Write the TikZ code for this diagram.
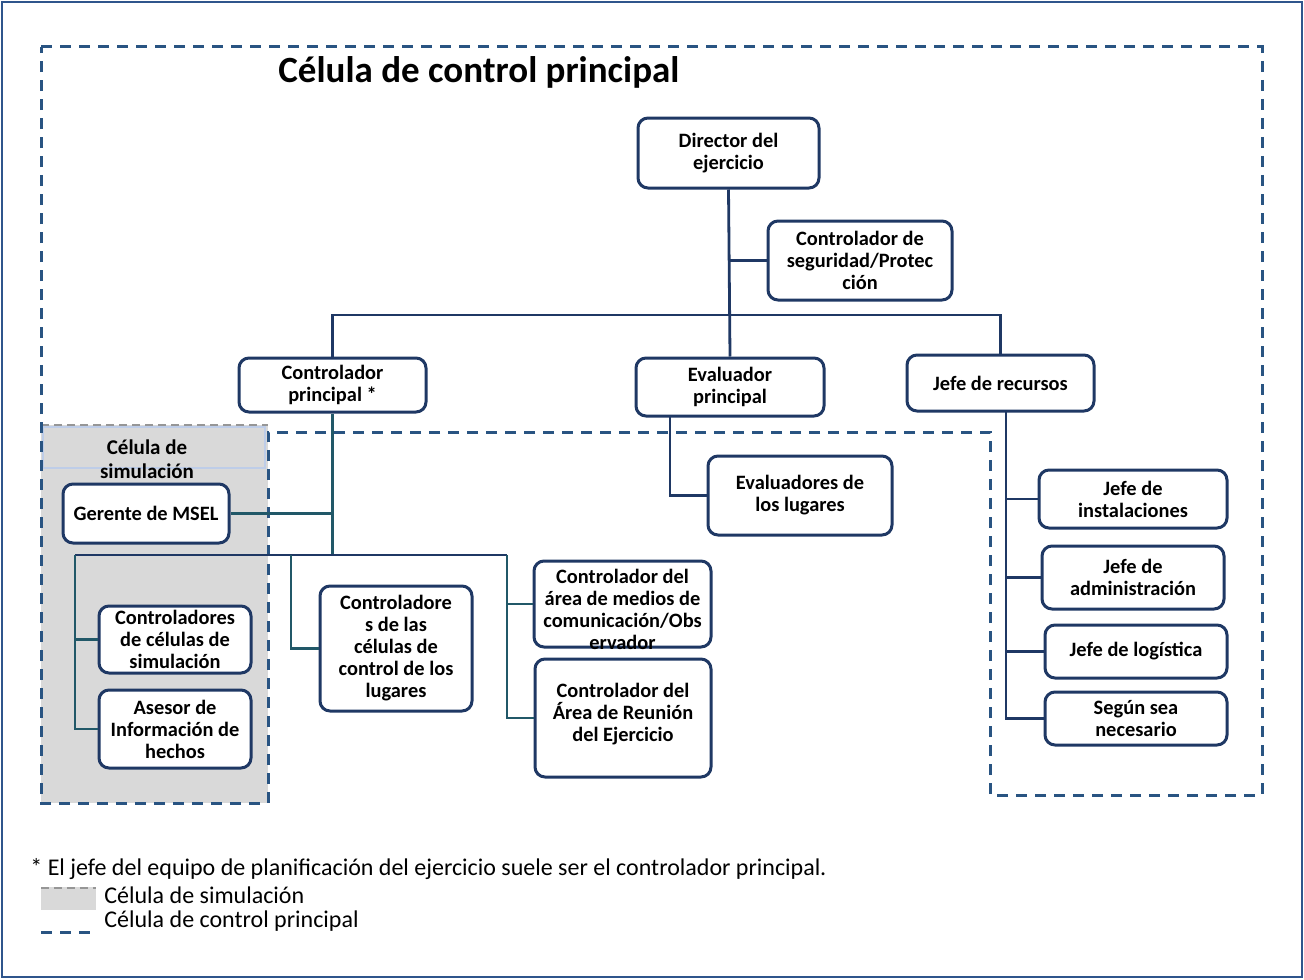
\documentclass[tikz,border=0pt]{standalone}
\usepackage{fontspec}
\setmainfont{Carlito}
\definecolor{boxline}{RGB}{31,56,100}
\definecolor{tealline}{RGB}{33,88,104}
\definecolor{ctrlblue}{RGB}{41,84,130}
\definecolor{framecol}{RGB}{47,85,140}
\definecolor{simgray}{RGB}{217,217,217}
\definecolor{simdash}{RGB}{150,150,150}
\definecolor{faintblue}{RGB}{190,205,232}
\begin{document}
\begin{tikzpicture}[x=0.5pt,y=-0.5pt,
  box/.style={draw=boxline,line width=1.5pt,rounded corners=5pt,fill=white,align=center,inner sep=0pt,font=\bfseries\fontsize{10.2}{11}\selectfont},
  boxtext/.style={align=center,inner sep=0pt,font=\bfseries\fontsize{10.2}{11}\selectfont},
  sz/.style 2 args={minimum width=#1*0.5pt,minimum height=#2*0.5pt},
  link/.style={draw=boxline,line width=1.4pt},
  tlink/.style={draw=tealline,line width=1.4pt},
  ctrlcell/.style={draw=ctrlblue,line width=1.5pt,dash pattern=on 5.5pt off 4pt},
  simtop/.style={draw=simdash,line width=1.2pt,dash pattern=on 4pt off 2.5pt},
  legendtxt/.style={anchor=west,inner sep=0pt,font=\fontsize{12}{14}\selectfont}]
\useasboundingbox (0,0) rectangle (1304,979);
\draw[draw=framecol,line width=1.2pt] (2,2) rectangle (1302,977);
% simulation cell and main control cell
\fill[simgray] (41,425) rectangle (268,803);
\draw[simtop] (41,425) -- (268,425);
\draw[faintblue,line width=0.6pt] (43,427) rectangle (265,468);
\draw[ctrlcell] (41,47) -- (1262,47) -- (1262,795) -- (990,795) -- (990,432) -- (268,432) -- (268,803) -- (41,803) -- cycle;
\node[anchor=west,inner sep=0pt,font=\bfseries\fontsize{18.5}{21}\selectfont] (title) at (278,72) {Célula de control principal};
\node[boxtext,font=\bfseries\fontsize{10.5}{12}\selectfont] (simtitle) at (147,459) {Célula de\\simulación};
% boxes
\node[box,sz={181}{70}] (dir) at (728.5,153) {Director del\\ejercicio};
\node[box,sz={184}{79}] (seg) at (860,260.5) {Controlador de\\seguridad/Protec\\ción};
\node[box,sz={187}{54}] (cp) at (332.5,385) {Controlador\\principal *};
\node[box,sz={188}{58}] (evp) at (730,387) {Evaluador\\principal};
\node[box,sz={187}{56}] (jr) at (1000.5,383) {Jefe de recursos};
\node[box,sz={166}{59}] (ger) at (146,513.5) {Gerente de MSEL};
\node[box,sz={152}{67}] (csim) at (175,639.5) {Controladores\\de células de\\simulación};
\node[box,sz={152}{78}] (ase) at (175,729) {Asesor de\\Información de\\hechos};
\node[box,sz={152}{125}] (ccl) at (396,648.5) {Controladore\\s de las\\células de\\control de los\\lugares};
\node[box,sz={177}{86}] (med) at (622.5,604) {};
\node[boxtext] (medtxt) at (622.5,609) {Controlador del\\área de medios de\\comunicación/Obs\\ervador};
\node[box,sz={176}{118}] (reu) at (623,718) {};
\node[boxtext] (reutxt) at (623,714) {Controlador del\\Área de Reunión\\del Ejercicio};
\node[box,sz={184}{79}] (evl) at (800,495.5) {Evaluadores de\\los lugares};
\node[box,sz={188}{58}] (ins) at (1133,499) {Jefe de\\instalaciones};
\node[box,sz={182}{63}] (adm) at (1133,577.5) {Jefe de\\administración};
\node[box,sz={182}{53}] (log) at (1136,651.5) {Jefe de logística};
\node[box,sz={182}{53}] (nec) at (1136,718.5) {Según sea\\necesario};
% connectors
\coordinate (bus) at (728.5,315);
\coordinate (cpbus) at (332.5,555);
\coordinate (simbus) at (75,555);
\coordinate (lugbus) at (291,555);
\coordinate (medbus) at (507,555);
\coordinate (evdrop) at (670,416);
\coordinate (jrdrop) at (1006,411);
\draw[link] (dir.south) -- (evp.north);
\draw[link] (dir.south |- seg.west) -- (seg.west);
\draw[link] (cp.north) -- (cp.north |- bus) -- (jr.north |- bus) -- (jr.north);
\draw[tlink] (cp.south) -- (cpbus);
\draw[tlink] (cp.south |- ger.east) -- (ger.east);
\draw[link] (simbus) -- (medbus);
\draw[tlink] (simbus) |- (ase.west);
\draw[tlink] (simbus |- csim.west) -- (csim.west);
\draw[tlink] (lugbus) |- (ccl.west);
\draw[tlink] (medbus) |- (reu.west);
\draw[tlink] (medbus |- med.west) -- (med.west);
\draw[link] (evdrop) |- (evl.west);
\draw[link] (jrdrop) |- (nec.west);
\foreach \n in {ins,adm,log}
  \draw[link] (jrdrop |- \n.west) -- (\n.west);
% legend
\node[legendtxt] (note) at (30,869) {* El jefe del equipo de planificación del ejercicio suele ser el controlador principal.};
\fill[simgray] (41,887) rectangle (96,910);
\draw[simtop,line width=1pt] (41,888) -- (96,888);
\node[legendtxt] (legsim) at (104,895) {Célula de simulación};
\draw[ctrlcell] (41,932) -- (96,932);
\node[legendtxt] (legctrl) at (104,921) {Célula de control principal};
\end{tikzpicture}
\end{document}
